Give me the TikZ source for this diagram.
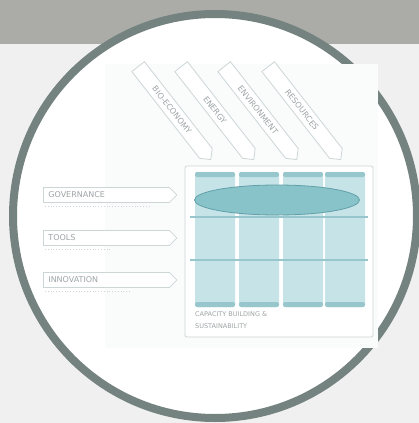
\documentclass[tikz,border=0pt]{standalone}
\usepackage{fontspec}
\setsansfont{DejaVu Sans}
\usetikzlibrary{shapes.symbols,shapes.geometric,positioning}

\definecolor{band}{RGB}{171,172,167}
\definecolor{page}{RGB}{240,240,240}
\definecolor{ring}{RGB}{116,131,127}
\definecolor{panel}{RGB}{250,251,251}
\definecolor{colfill}{RGB}{198,227,231}
\definecolor{colline}{RGB}{152,198,205}
\definecolor{ovalfill}{RGB}{136,195,202}
\definecolor{ovalline}{RGB}{96,160,168}
\definecolor{faint}{RGB}{205,214,215}
\definecolor{txt}{RGB}{158,164,166}

\begin{document}
\begin{tikzpicture}[x=1pt, y=-1pt,
    lbl/.style={font=\fontsize{8}{9}\selectfont\sffamily, text=txt},
    sidearrow/.style={lbl, shape=signal, signal to=east, draw=faint, line width=0.8pt,
        fill=white, minimum height=15pt, text width=116pt, align=left,
        inner xsep=5pt, inner ysep=1pt, anchor=west},
    toparrow/.style={lbl, shape=signal, signal to=east, draw=faint, line width=0.8pt,
        fill=white, minimum height=16pt, minimum width=118pt, inner ysep=1pt, rotate=-52},
    column/.style={rectangle, rounded corners=3pt, fill=colfill, minimum width=40pt,
        minimum height=135pt, inner sep=0pt},
    colcap/.style={rectangle, rounded corners=2pt, fill=colline, minimum width=40pt,
        minimum height=5pt, inner sep=0pt}
]
    \useasboundingbox (0,0) rectangle (419,423);
    \clip (0,0) rectangle (419,423);

    % Background and ring
    \fill[page] (0,0) rectangle (419,423);
    \fill[band] (0,0) rectangle (419,44);
    \draw[ring, line width=8pt, fill=white] (215,216) circle[radius=202pt];
    \fill[panel] (105,64) rectangle (378,348);

    % Top arrows
    \node[toparrow] (bio) at (172,110) {BIO-ECONOMY};
    \node[toparrow] (energy) at (215,110) {ENERGY};
    \node[toparrow] (env) at (258,110) {ENVIRONMENT};
    \node[toparrow] (res) at (302,110) {RESOURCES};

    % Matrix
    \node[draw=faint, line width=0.8pt, fill=white, rounded corners=2pt,
        minimum width=188pt, minimum height=171pt] (cbs) at (279,251.5) {};
    \foreach \cx [count=\i] in {215,259,303,345} {
        \node[column] (col\i) at (\cx,239.5) {};
        \node[colcap] (top\i) at (\cx,174.5) {};
        \node[colcap] (bot\i) at (\cx,304.5) {};
    }
    \draw[colline, line width=1.5pt] (190,217) -- (368,217);
    \draw[colline, line width=1.5pt] (190,260) -- (368,260);
    \node[ellipse, draw=ovalline, line width=0.8pt, fill=ovalfill, minimum width=165pt,
        minimum height=30pt, inner sep=0pt] (oval) at (277,200) {};
    \node[lbl, font=\fontsize{6.5}{12}\selectfont\sffamily, anchor=north west,
        align=left, inner sep=0pt] (cbstext) at (195,311)
        {CAPACITY BUILDING \&\\SUSTAINABILITY};

    % Side arrows
    \node[sidearrow] (gov) at (43,195) {GOVERNANCE};
    \node[sidearrow] (tools) at (43,238) {TOOLS};
    \node[sidearrow] (innov) at (43,280) {INNOVATION};
    \draw[faint, dotted, line width=0.8pt] (45,206) -- (150,206);
    \draw[faint, dotted, line width=0.8pt] (45,249) -- (110,249);
    \draw[faint, dotted, line width=0.8pt] (45,291) -- (130,291);
\end{tikzpicture}
\end{document}
